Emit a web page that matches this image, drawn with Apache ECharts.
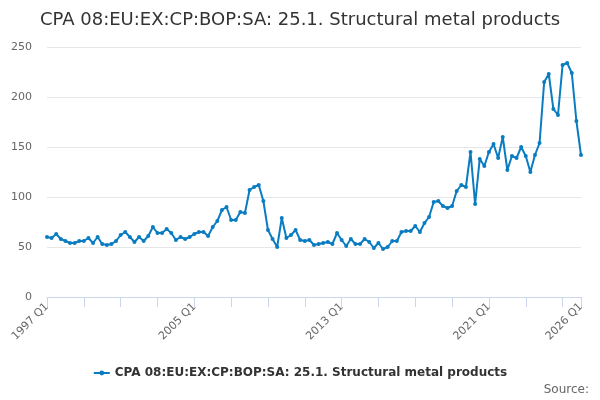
<!DOCTYPE html>
<html>
<head>
<meta charset="utf-8">
<script src="https://cdn.jsdelivr.net/npm/echarts@6/dist/echarts.min.js"></script>
<style>
  html, body { margin: 0; padding: 0; background: #fff; }
  #chart { width: 600px; height: 400px; }
</style>
</head>
<body>
<div id="chart"></div>
<script>
// quarterly index values, 1997 Q1 .. 2026 Q1
var startYear = 1997;
var endYear = 2026;
var values = [
  60, 59, 63, 58, 56, 54, 54, 56, 56, 59, 54, 60, 53, 52, 53, 56, 62, 65, 60, 55,
  60, 56, 61, 70, 64, 64, 68, 64, 57, 60, 58, 60, 63, 65, 65, 61, 70, 76, 87, 90,
  77, 77, 85, 84, 107, 110, 112, 96, 67, 58, 50, 79, 59, 62, 67, 57, 56, 57, 52, 53,
  54, 55, 53, 64, 57, 51, 58, 53, 53, 58, 55, 49, 54, 48, 50, 56, 56, 65, 66, 66,
  71, 65, 74, 80, 95, 96, 91, 89, 91, 106, 112, 110, 145, 93, 138, 131, 145, 153, 139, 160,
  127, 141, 139, 150, 141, 125, 142, 154, 215, 223, 188, 182, 232, 234, 224, 176, 142
];
var yTicks = [0, 50, 100, 150, 200, 250];
var seriesName = 'CPA 08:EU:EX:CP:BOP:SA: 25.1. Structural metal products';

var categories = [];
for (var y = startYear; y <= endYear; y++) {
  for (var q = 1; q <= 4; q++) {
    categories.push(y + ' Q' + q);
  }
}
categories = categories.slice(0, values.length);
var last = categories.length - 1;

var chart = echarts.init(document.getElementById('chart'));
var option = {
  animation: false,
  textStyle: { fontFamily: 'DejaVu Sans' },
  title: {
    text: seriesName,
    left: 'center',
    top: 6,
    textStyle: { fontSize: 18, fontWeight: 'normal', color: '#333' }
  },
  legend: {
    bottom: 16,
    left: 'center',
    itemWidth: 16,
    itemHeight: 6,
    textStyle: { fontSize: 12, fontWeight: 'bold', color: '#333' },
    data: [seriesName]
  },
  graphic: [{
    type: 'text',
    right: 11,
    bottom: 4,
    style: { text: 'Source:', fontSize: 12, fill: '#666', fontFamily: 'DejaVu Sans' }
  }],
  grid: { left: 47, right: 19, top: 47, bottom: 103 },
  xAxis: {
    type: 'category',
    data: categories,
    boundaryGap: false,
    axisLine: { lineStyle: { color: '#ccd6eb' } },
    axisTick: {
      length: 10,
      lineStyle: { color: '#ccd6eb' },
      interval: function (i) { return i % 8 === 0 || i === last; }
    },
    axisLabel: {
      rotate: 45,
      color: '#666',
      fontSize: 11,
      margin: 8,
      interval: function (i) { return i % 32 === 0 || i === last; }
    },
    splitLine: { show: false }
  },
  yAxis: {
    type: 'value',
    min: yTicks[0],
    max: yTicks[yTicks.length - 1],
    interval: 50,
    axisLine: { show: false },
    axisTick: { show: false },
    axisLabel: { color: '#666', fontSize: 11, margin: 15 },
    splitLine: { lineStyle: { color: '#e6e6e6' } }
  },
  series: [{
    name: seriesName,
    type: 'line',
    data: values,
    symbol: 'circle',
    symbolSize: 4,
    showAllSymbol: true,
    color: '#0a7cc1',
    lineStyle: { width: 2 }
  }]
};
chart.setOption(option);
</script>
</body>
</html>
